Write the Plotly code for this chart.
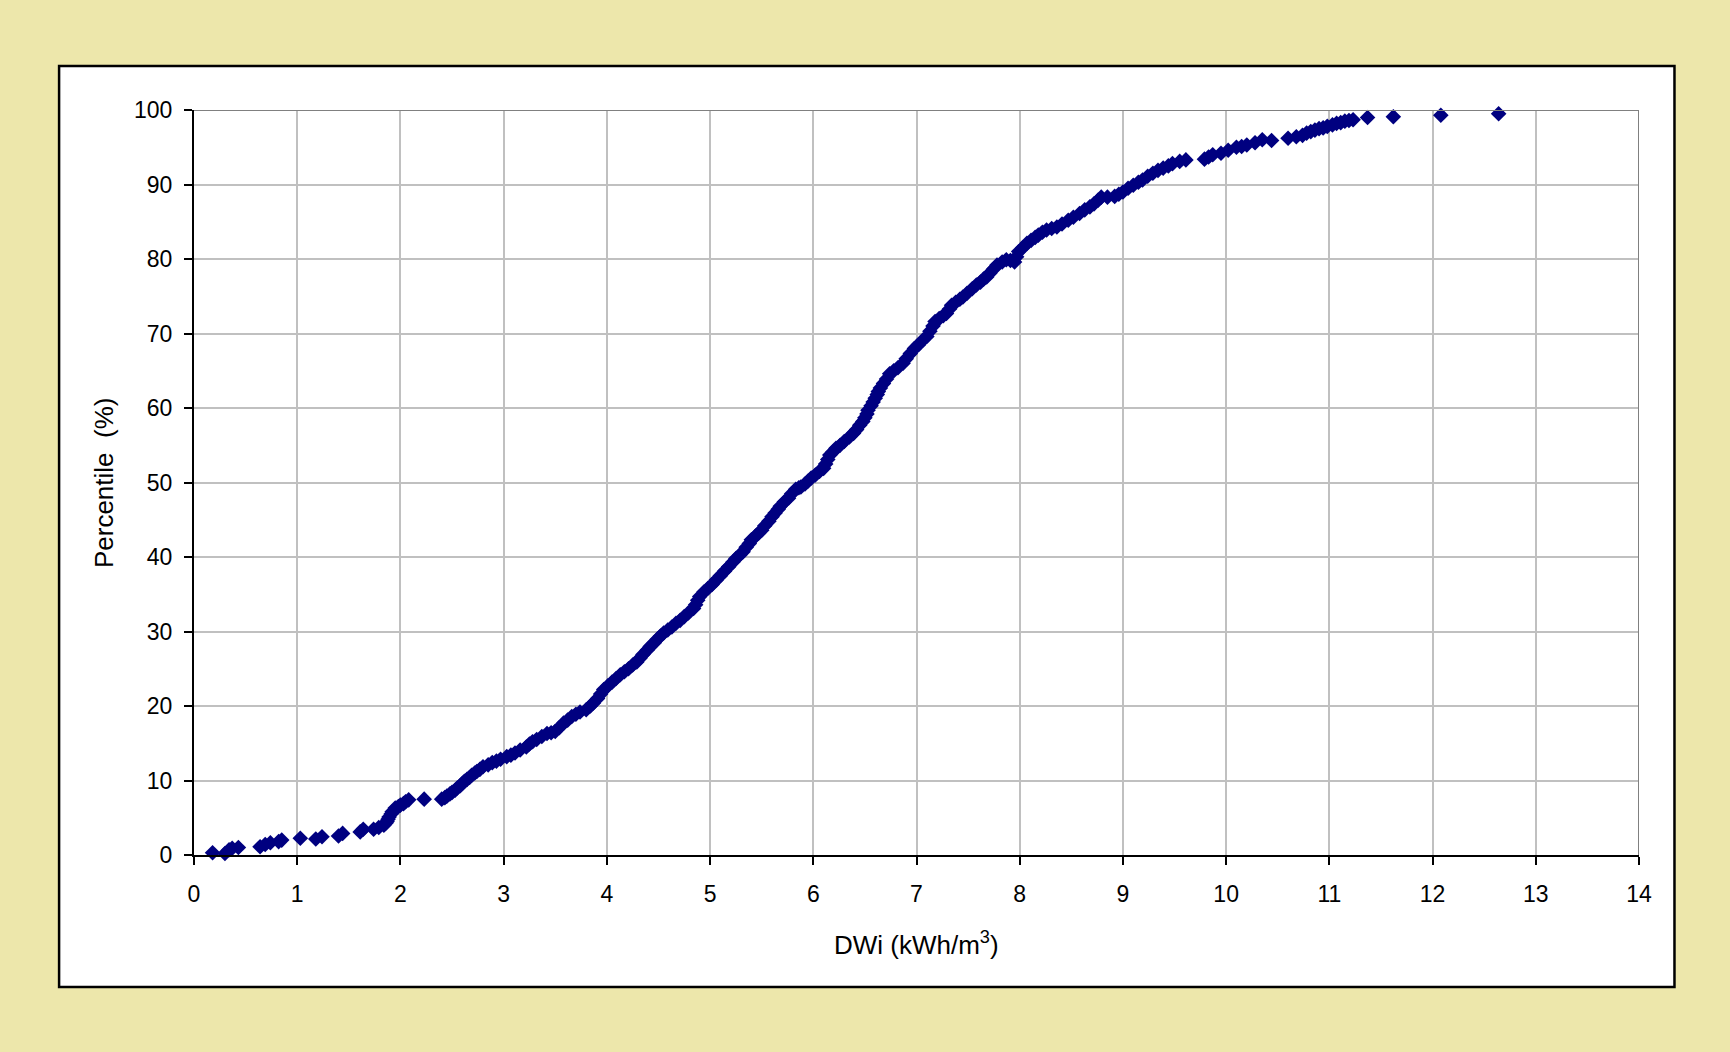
import plotly.graph_objects as go

# DWi (kWh/m3) values
dwi = [
    0.18, 0.30, 0.34, 0.37, 0.43, 0.64, 0.69, 0.74, 0.82, 0.85, 1.03, 1.18, 1.24, 1.40, 1.44,
    1.61, 1.64, 1.74, 1.79, 1.84, 1.86, 1.87, 1.88, 1.89, 1.91, 1.92, 1.95, 1.98, 2.00, 2.03,
    2.05, 2.08, 2.23, 2.40, 2.43,
    2.45, 2.48, 2.50, 2.53, 2.55, 2.58, 2.60, 2.62, 2.645, 2.67, 2.69, 2.72, 2.74, 2.77, 2.80,
    2.85, 2.89, 2.93, 2.97, 3.03, 3.07, 3.11,
    3.16, 3.22, 3.25, 3.28, 3.32, 3.37, 3.42, 3.46, 3.50, 3.54, 3.58, 3.62, 3.66, 3.70, 3.74,
    3.80, 3.84, 3.87,
    3.91, 3.94, 3.97, 4.01, 4.05, 4.09, 4.13, 4.17, 4.21, 4.25, 4.29, 4.32, 4.35, 4.39, 4.42,
    4.46, 4.49, 4.52, 4.55, 4.59, 4.63, 4.67, 4.71, 4.75, 4.79, 4.84, 4.86, 4.88, 4.90, 4.94,
    4.98, 5.02, 5.06, 5.10, 5.14, 5.18,
    5.22, 5.25, 5.29, 5.32, 5.35, 5.38, 5.40, 5.44, 5.47, 5.50, 5.53, 5.57, 5.60, 5.63, 5.66,
    5.68, 5.72, 5.76, 5.79, 5.83, 5.86, 5.88, 5.92, 5.95, 5.98, 6.02, 6.06, 6.10, 6.12, 6.14,
    6.16, 6.19, 6.22, 6.26, 6.30, 6.35, 6.39, 6.42, 6.45, 6.48, 6.50, 6.52, 6.53, 6.56, 6.58,
    6.60, 6.62, 6.63, 6.65, 6.68, 6.71, 6.74, 6.78, 6.82, 6.87, 6.90, 6.94, 6.98, 7.02, 7.06,
    7.10, 7.13, 7.16, 7.18, 7.22, 7.26, 7.29, 7.32, 7.34, 7.38, 7.42, 7.45, 7.49, 7.54, 7.58,
    7.62, 7.65, 7.68, 7.71, 7.75, 7.78, 7.83, 7.87, 7.91, 7.95, 7.97, 7.99, 8.03, 8.07, 8.11,
    8.15, 8.18, 8.22, 8.26, 8.31, 8.36, 8.41, 8.47, 8.52, 8.58, 8.63, 8.68, 8.72, 8.76, 8.79,
    8.85, 8.92, 8.96, 9.00, 9.05, 9.10, 9.15, 9.19, 9.24, 9.29, 9.34, 9.39, 9.44, 9.48, 9.55,
    9.61,
    9.79, 9.83, 9.87, 9.95, 10.02, 10.10, 10.15, 10.20, 10.28, 10.35, 10.44, 10.60, 10.68,
    10.74, 10.78, 10.82, 10.86, 10.90, 10.94, 10.98, 11.03, 11.07, 11.11, 11.15, 11.19, 11.23,
    11.37, 11.62, 12.08, 12.64,
]

# Percentile (%) values
percentile = [
    0.3, 0.2, 0.7, 0.9, 1.0, 1.1, 1.4, 1.65, 1.8, 2.0, 2.25, 2.15, 2.45, 2.55, 2.9,
    3.1, 3.45, 3.45, 3.7, 4.0, 4.3, 4.5, 4.8, 5.1, 5.5, 5.8, 6.3, 6.5, 6.7, 6.9,
    7.15, 7.4, 7.5, 7.5, 7.7,
    7.9, 8.2, 8.4, 8.7, 9.0, 9.3, 9.6, 9.9, 10.15, 10.4, 10.7, 11.0, 11.2, 11.5, 11.85,
    12.1, 12.4, 12.6, 12.85, 13.2, 13.4, 13.7,
    14.1, 14.5, 14.9, 15.2, 15.5, 15.9, 16.3, 16.4, 16.6, 17.1, 17.7, 18.1, 18.6, 18.9, 19.2,
    19.5, 20.0, 20.4,
    21.0, 21.6, 22.2, 22.7, 23.2, 23.7, 24.2, 24.6, 25.0, 25.5, 25.9, 26.4, 26.9, 27.5, 28.0,
    28.5, 29.0, 29.4, 29.8, 30.2, 30.6, 31.1, 31.5, 32.0, 32.5, 33.1, 33.6, 34.2, 34.7, 35.3,
    35.8, 36.3, 36.9, 37.5, 38.1, 38.7,
    39.3, 39.8, 40.3, 40.7, 41.3, 41.8, 42.3, 42.8, 43.2, 43.6, 44.2, 44.8, 45.4, 45.9, 46.4,
    46.8, 47.4, 47.9, 48.5, 49.1, 49.3, 49.4, 49.8, 50.2, 50.6, 51.0, 51.5, 51.9, 52.5, 53.1,
    53.7, 54.1, 54.6, 55.0, 55.5, 56.1, 56.6, 57.1, 57.7, 58.2, 58.7, 59.2, 59.7, 60.3, 60.8,
    61.3, 61.8, 62.2, 62.7, 63.3, 63.9, 64.6, 65.0, 65.4, 66.0, 66.6, 67.3, 68.0, 68.5, 69.1,
    69.6, 70.3, 71.0, 71.6, 72.0, 72.4, 72.7, 73.3, 73.8, 74.2, 74.6, 74.9, 75.4, 76.0, 76.5,
    76.9, 77.3, 77.6, 78.1, 78.7, 79.2, 79.6, 79.9, 79.8, 79.6, 80.3, 81.0, 81.5, 82.1, 82.5,
    82.9, 83.2, 83.6, 83.9, 84.1, 84.3, 84.7, 85.2, 85.6, 86.1, 86.6, 87.0, 87.4, 87.9, 88.3,
    88.3, 88.4, 88.7, 89.0, 89.5, 89.9, 90.3, 90.6, 91.1, 91.5, 91.9, 92.2, 92.5, 92.8, 93.1,
    93.3,
    93.4, 93.7, 94.0, 94.2, 94.6, 95.0, 95.1, 95.3, 95.6, 96.0, 95.9, 96.2, 96.4,
    96.6, 96.9, 97.1, 97.3, 97.5, 97.6, 97.8, 98.0, 98.2, 98.3, 98.5, 98.6, 98.7,
    99.0, 99.1, 99.3, 99.5,
]

x_ticks = list(range(0, 15))
y_ticks = list(range(0, 101, 10))

FONT = "Liberation Sans, Arial, sans-serif"

fig = go.Figure()
fig.add_trace(go.Scatter(
    x=dwi, y=percentile, mode="markers",
    marker=dict(symbol="diamond", size=12, color="#000080", line=dict(width=0)),
    cliponaxis=False, showlegend=False, hoverinfo="x+y",
))

W, H = 1730, 1052
L, R, T, B = 193.5, 90.5, 110, 197
pw, ph = W - L - R, H - T - B

def px(xp):
    return (xp - L) / pw

def py(yp):
    return (H - B - yp) / ph

axis_common = dict(
    showgrid=True, gridcolor="#C0C0C0", gridwidth=1.5,
    showline=True, linecolor="black", linewidth=2,
    ticks="outside", ticklen=8, tickwidth=2, tickcolor="black",
    zeroline=False, tickfont=dict(family=FONT, size=23, color="black"),
)

fig.update_layout(
    width=W, height=H,
    margin=dict(l=L, r=R, t=T, b=B, pad=0),
    paper_bgcolor="#EDE7AB",
    plot_bgcolor="white",
    xaxis=dict(range=[0, 14], tickvals=x_ticks, ticklabelstandoff=9, **axis_common),
    yaxis=dict(range=[0, 100], tickvals=y_ticks, ticklabelstandoff=7, **axis_common),
    shapes=[
        dict(type="rect", xref="paper", yref="paper",
             x0=px(58.5), x1=px(1675), y0=py(987), y1=py(66),
             fillcolor="white", line=dict(color="black", width=2.5), layer="below"),
        dict(type="path", xref="x", yref="y",
             path="M 0,100 L 14,100 L 14,0",
             line=dict(color="#808080", width=2), layer="above"),
    ],
    annotations=[
        dict(text="DWi (kWh/m<sup>3</sup>)", xref="paper", yref="paper",
             x=0.5, y=py(943), xanchor="center", yanchor="middle",
             showarrow=False, font=dict(family=FONT, size=26, color="black")),
        dict(text="Percentile\u00a0 (%)", xref="paper", yref="paper",
             x=px(103), y=0.5, xanchor="center", yanchor="middle", textangle=-90,
             showarrow=False, font=dict(family=FONT, size=26, color="black")),
    ],
)

fig.write_html("out.html")
